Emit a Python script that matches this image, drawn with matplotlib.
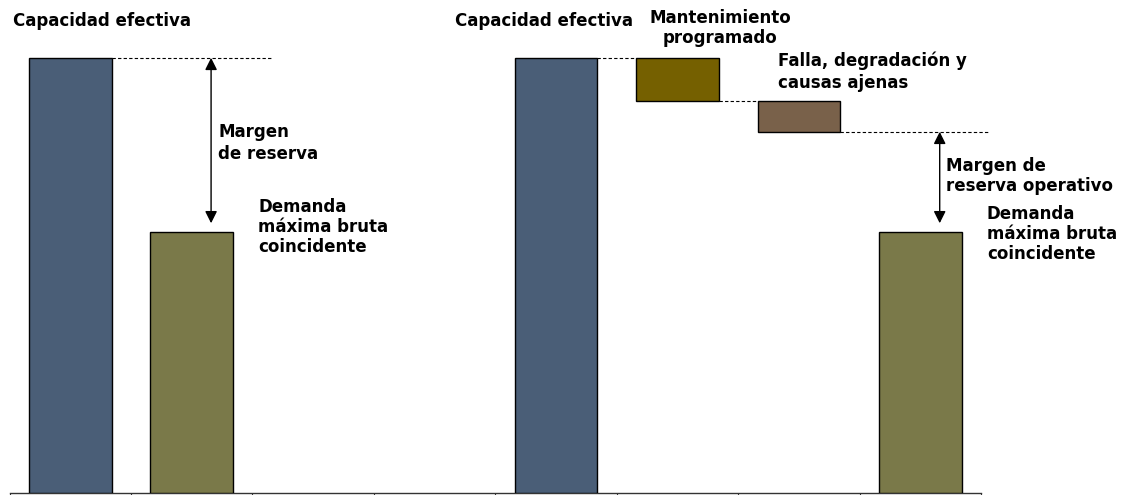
import matplotlib
matplotlib.use('Agg')
import matplotlib.pyplot as plt

# slot positions along the axis (8 slots, two of them empty)
n_slots = 8
capacidad = 100
demanda = 60
mantenimiento = 10
falla = 7

blue = '#4a5e77'
olive = '#7a7949'
ochre = '#756000'
brown = '#79614a'

bar_x = [0, 1, 4, 5, 6, 7]
reserva_op = capacidad - mantenimiento - falla
bottoms = [0, 0, 0, capacidad - mantenimiento, reserva_op, 0]
heights = [capacidad, demanda, capacidad, mantenimiento, falla, demanda]
colors = [blue, olive, blue, ochre, brown, olive]

W, H = 1132, 495
fig = plt.figure(figsize=(W / 100, H / 100), dpi=100)
ax = fig.add_axes([9.5 / W, 2 / H, (981 - 9.5) / W, 493 / H])
ax.set_xlim(-0.5, n_slots - 0.5)
ax.set_ylim(0, 113.3)

width = 0.68
ax.bar(bar_x, heights, width=width, bottom=bottoms, color=colors,
       edgecolor='black', linewidth=1, zorder=3)

for s in ['top', 'left', 'right']:
	ax.spines[s].set_visible(False)
ax.spines['bottom'].set_color('#333333')
ax.spines['bottom'].set_linewidth(1)
ax.set_yticks([])
ax.set_xticks([i - 0.5 for i in range(n_slots + 1)])
ax.set_xticklabels([])
ax.tick_params(axis='x', direction='out', length=3, color='#333333')

half = width / 2
dash = dict(color='black', lw=0.8, ls=(0, (3, 2)), clip_on=False)
# connectors between the bars
ax.plot([0 + half, 1.66], [capacidad, capacidad], **dash)
ax.plot([4 + half, 5 - half], [capacidad, capacidad], **dash)
ax.plot([5 + half, 6 - half], [capacidad - mantenimiento] * 2, **dash)
ax.plot([6 + half, 7.56], [reserva_op, reserva_op], **dash)

arrow = dict(arrowstyle='<|-|>', color='black', lw=1, mutation_scale=18,
             shrinkA=0, shrinkB=0)
ax.annotate('', xy=(1.16, capacidad), xytext=(1.16, demanda + 2), arrowprops=arrow)
ax.annotate('', xy=(7.16, reserva_op), xytext=(7.16, demanda + 2), arrowprops=arrow)

font = dict(fontsize=12, fontweight='bold', family='DejaVu Sans', va='center')

def label(x, y, s, **kw):
	opts = dict(font)
	opts.update(kw)
	fig.text(x / W, 1 - y / H, s, **opts)

label(13, 21, 'Capacidad efectiva')
label(218, 143, 'Margen\nde reserva', linespacing=1.33)
label(258, 227, 'Demanda\nmáxima bruta\ncoincidente', linespacing=1.17)

label(455, 21, 'Capacidad efectiva')
label(720, 28, 'Mantenimiento\nprogramado', ha='center', linespacing=1.18)
label(778, 72, 'Falla, degradación y\ncausas ajenas', linespacing=1.27)
label(946, 176, 'Margen de\nreserva operativo', linespacing=1.12)
label(987, 234, 'Demanda\nmáxima bruta\ncoincidente', linespacing=1.12)

fig.savefig('out.png', dpi=100)
